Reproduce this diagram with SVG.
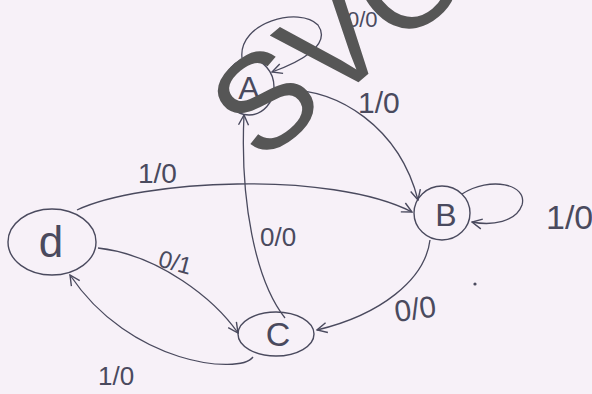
<svg xmlns="http://www.w3.org/2000/svg" width="592" height="394" viewBox="0 0 592 394">
<defs>
<style>
.st{fill:none;stroke:#4a4a5e;stroke-width:1.4}
.ed{fill:none;stroke:#4a4a5e;stroke-width:1.3}
.lb{font-family:"Liberation Sans",Arial,sans-serif;fill:#4a4a5e}
.nl{font-family:"Liberation Sans",Arial,sans-serif;fill:#4a4a5e;text-anchor:middle}
.wm{font-family:"Liberation Sans",Arial,sans-serif;fill:#565656}
</style>
<marker id="ah" viewBox="0 0 12 12" refX="11" refY="6" markerWidth="12" markerHeight="12" markerUnits="userSpaceOnUse" orient="auto">
<path d="M1,1 L11,6 L1,11" fill="none" stroke="#4a4a5e" stroke-width="1.4"/>
</marker>
</defs>
<rect width="592" height="394" fill="#f7f1f8"/>
<g id="connectors">
<path class="ed" d="M242 58 C238 22,300 6,318 25 C332 45,300 62,272 72" marker-end="url(#ah)"/>
<path class="ed" d="M274 90 C340 85,400 130,418 200" marker-end="url(#ah)"/>
<path class="ed" d="M462 194 C490 176,528 184,522 205 C516 222,492 226,472 222" marker-end="url(#ah)"/>
<path class="ed" d="M77 210 C140 180,330 170,412 212" marker-end="url(#ah)"/>
<path class="ed" d="M430 240 C425 280,380 315,317 330" marker-end="url(#ah)"/>
<path class="ed" d="M285 318 C255 280,240 200,244 115" marker-end="url(#ah)"/>
<path class="ed" d="M98 248 C160 255,215 300,238 333" marker-end="url(#ah)"/>
<path class="ed" d="M253 357 C240 375,130 365,70 275" marker-end="url(#ah)"/>
</g>
<g id="A">
<ellipse class="st" cx="249" cy="87" rx="25" ry="28"/>
<text class="nl" x="249" y="99" font-size="32">A</text>
</g>
<g id="B">
<ellipse class="st" cx="442" cy="213" rx="28" ry="27"/>
<text class="nl" x="446" y="226" font-size="32">B</text>
</g>
<g id="C">
<ellipse class="st" cx="276" cy="334" rx="38" ry="22"/>
<text class="nl" x="278" y="346" font-size="34">C</text>
</g>
<g id="d">
<ellipse class="st" cx="52" cy="242" rx="44" ry="33"/>
<text class="nl" x="51" y="257" font-size="44">d</text>
</g>
<g id="labels">
<text class="lb" x="347" y="27" font-size="22">0/0</text>
<text class="lb" x="358" y="113" font-size="30">1/0</text>
<text class="lb" x="546" y="229" font-size="34">1/0</text>
<text class="lb" x="138" y="183" font-size="28">1/0</text>
<text class="lb" x="260" y="246" font-size="26">0/0</text>
<text class="lb" x="157" y="266" font-size="24" transform="rotate(15 157 266)">0/1</text>
<text class="lb" x="396" y="322" font-size="30" transform="rotate(-8 396 322)">0/0</text>
<text class="lb" x="98" y="385" font-size="26">1/0</text>
<circle cx="475" cy="284" r="1.6" fill="#4a4a5e"/>
</g>
<text class="wm" x="0" y="0" font-size="135" transform="translate(260 165) rotate(-40)">SVO</text>
</svg>
